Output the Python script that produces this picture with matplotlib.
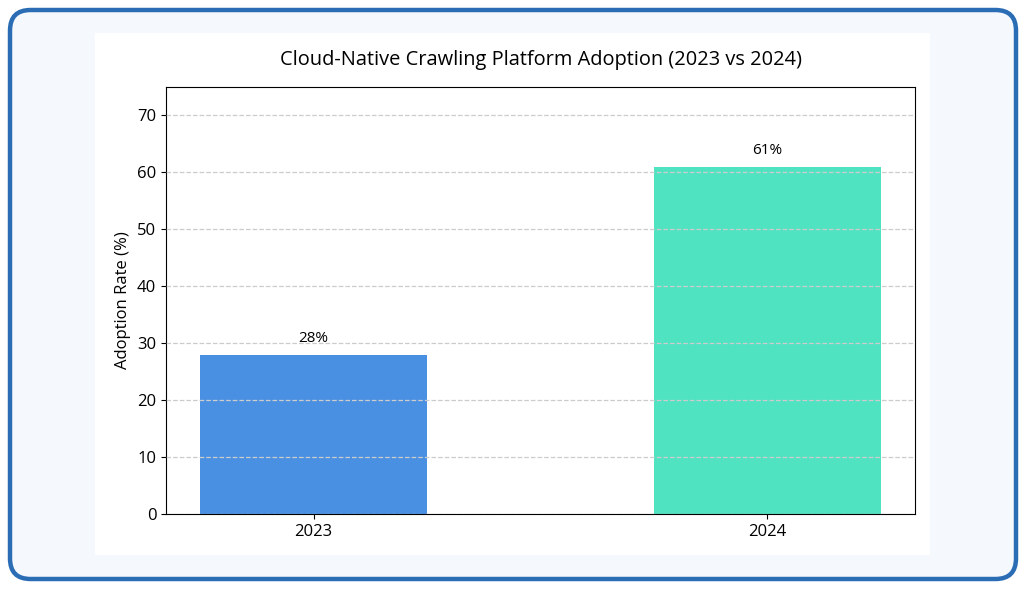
import matplotlib.pyplot as plt
from matplotlib.patches import FancyBboxPatch, Rectangle

years = ['2023', '2024']
adoption = [28, 61]
colors = ['#4a90e2', '#50e3c2']

plt.rcParams['font.family'] = ['Open Sans', 'DejaVu Sans']

W, H = 1026, 589
fig = plt.figure(figsize=(W / 100, H / 100), dpi=100)
fig.patch.set_facecolor('white')

# rounded outer frame and white panel, kept behind the axes
fig.patches.append(FancyBboxPatch((10 / W, 10 / H), 1006 / W, 569 / H,
                                  boxstyle='round,pad=0,rounding_size=0.02',
                                  transform=fig.transFigure, facecolor='#f5f8fd',
                                  edgecolor='#2a6db5', linewidth=3.2, mutation_aspect=W / H,
                                  zorder=-2))
fig.patches.append(Rectangle((95 / W, (H - 555) / H), 835 / W, 522 / H,
                             transform=fig.transFigure, facecolor='white', edgecolor='none',
                             zorder=-1))

ax = fig.add_axes([166 / W, (H - 514) / H, 749 / W, 427 / H])
x = range(len(years))
bars = ax.bar(x, adoption, width=0.5, color=colors)
for b, v in zip(bars, adoption):
    ax.text(b.get_x() + b.get_width() / 2, v + 1.5, f'{v}%', ha='center', va='bottom', fontsize=11)

ax.set_xticks(list(x))
ax.set_xticklabels(years, fontsize=12)
ax.set_xlim(-0.325, 1.325)
ax.set_ylim(0, 75)
ax.set_yticks(range(0, 80, 10))
ax.tick_params(axis='y', labelsize=12)
ax.set_ylabel('Adoption Rate (%)', fontsize=12)
ax.grid(axis='y', linestyle='--', color='#cccccc', linewidth=0.9)
ax.set_axisbelow(False)
ax.set_title('Cloud-Native Crawling Platform Adoption (2023 vs 2024)', fontsize=14.4, pad=16)

fig.savefig('out.png', dpi=100)
